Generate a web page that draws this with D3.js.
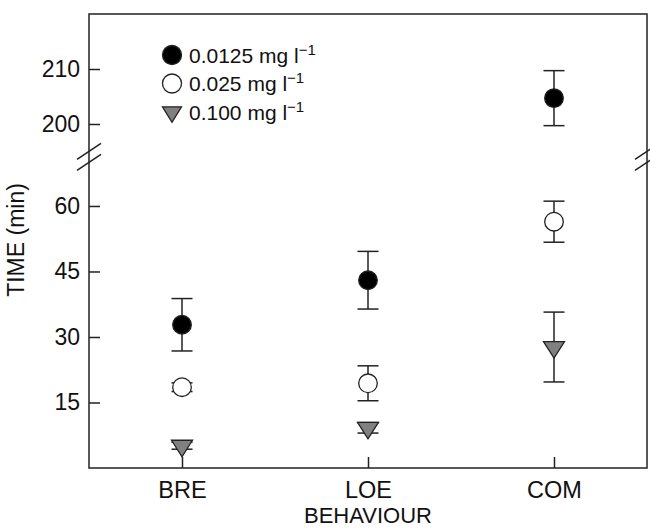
<!DOCTYPE html>
<html>
<head>
<meta charset="utf-8">
<script src="https://cdn.jsdelivr.net/npm/d3@7"></script>
<style>
  body { margin: 0; background: #fff; }
  text { font-family: Arial, "Liberation Sans", sans-serif; fill: #111; }
</style>
</head>
<body>
<div id="chart"></div>
<script>
// data
var categories = ["BRE", "LOE", "COM"];
var lowMean = [32.8, 43.0, 204.7];   // 0.0125 mg l-1
var lowErr = [6.0, 6.6, 5.0];
var midMean = [18.5, 19.4, 56.4];    // 0.025 mg l-1
var midErr = [1.0, 4.0, 4.7];
var highMean = [5.1, 9.2, 27.7];     // 0.100 mg l-1
var highErr = [0.8, 1.2, 8.0];
var lowerTicks = [15, 30, 45, 60];
var upperTicks = [200, 210];
var legendLabels = ["0.0125 mg l", "0.025 mg l", "0.100 mg l"];

var margin = {top: 14, right: 3, bottom: 61, left: 89},
    width = 650 - margin.left - margin.right,
    height = 529 - margin.top - margin.bottom;

var svg = d3.select("#chart")
  .append("svg")
  .attr("width", 650)
  .attr("height", 529);
var chart = svg.append("g")
  .attr("transform", "translate(" + margin.left + "," + margin.top + ")");

var x = d3.scalePoint()
  .domain(categories)
  .range([0, width])
  .padding(0.5);

// broken y axis: two segments
var yUpper = d3.scaleLinear().domain([195, 220]).range([137.5, 0]);
var yLower = d3.scaleLinear().domain([0, 70]).range([height, 148.3]);
function y(v) { return v >= 100 ? yUpper(v) : yLower(v); }

var ink = "#222";

// frame
chart.append("rect")
  .attr("x", 0).attr("y", 0)
  .attr("width", width).attr("height", height)
  .style("fill", "none")
  .style("stroke", ink)
  .style("stroke-width", 1.5);

// axes with inward ticks
function styleAxis(g) {
  g.select(".domain").remove();
  g.selectAll(".tick line").style("stroke", ink).style("stroke-width", 1.5);
  g.selectAll(".tick text").style("font-size", "23px").style("font-family", "Arial, 'Liberation Sans', sans-serif").style("fill", "#111");
}

chart.append("g")
  .call(d3.axisLeft(yLower).tickValues(lowerTicks).tickSizeInner(-11).tickSizeOuter(0).tickPadding(9))
  .call(styleAxis);
chart.append("g")
  .call(d3.axisLeft(yUpper).tickValues(upperTicks).tickSizeInner(-11).tickSizeOuter(0).tickPadding(9))
  .call(styleAxis);
chart.append("g")
  .attr("transform", "translate(0," + height + ")")
  .call(d3.axisBottom(x).tickSizeInner(-11).tickSizeOuter(0).tickPadding(13))
  .call(styleAxis)
  .selectAll(".tick text").style("font-size", "23.5px");

// break marks
var breakY = (yUpper(195) + yLower(70)) / 2;
[0, width].forEach(function (bx) {
  [-5.5, 5.5].forEach(function (off) {
    chart.append("line")
      .attr("x1", bx - 12).attr("y1", breakY + off + 8)
      .attr("x2", bx + 12).attr("y2", breakY + off - 8)
      .style("stroke", ink)
      .style("stroke-width", 1.5);
  });
});

// axis titles
chart.append("text")
  .attr("text-anchor", "middle")
  .attr("x", width / 2)
  .attr("y", height + 55)
  .style("font-size", "22px")
  .text("BEHAVIOUR");

chart.append("text")
  .attr("text-anchor", "middle")
  .attr("transform", "rotate(-90)")
  .attr("x", -(240 - margin.top))
  .attr("y", 23.5 - margin.left)
  .style("font-size", "23px")
  .text("TIME (min)");

// symbols
var tri = function (w, h) {
  return "M" + (-w / 2) + "," + (-h / 3) + "L" + (w / 2) + "," + (-h / 3) + "L0," + (2 * h / 3) + "Z";
};

var series = [
  {mean: lowMean, err: lowErr, shape: "circle", fill: "#000"},
  {mean: midMean, err: midErr, shape: "circle", fill: "#fff"},
  {mean: highMean, err: highErr, shape: "triangle", fill: "#808080"}
];

series.forEach(function (s) {
  var rows = categories.map(function (c, i) { return {c: c, m: s.mean[i], e: s.err[i]}; });
  var g = chart.append("g");
  var eb = g.selectAll(".eb").data(rows).enter().append("g");
  eb.append("line")
    .attr("x1", d => x(d.c)).attr("x2", d => x(d.c))
    .attr("y1", d => y(d.m + d.e)).attr("y2", d => y(d.m - d.e))
    .style("stroke", ink).style("stroke-width", 1.5);
  [1, -1].forEach(function (sgn) {
    eb.append("line")
      .attr("x1", d => x(d.c) - 10.5).attr("x2", d => x(d.c) + 10.5)
      .attr("y1", d => y(d.m + sgn * d.e)).attr("y2", d => y(d.m + sgn * d.e))
      .style("stroke", ink).style("stroke-width", 1.5);
  });
  if (s.shape === "circle") {
    g.selectAll("circle").data(rows).enter().append("circle")
      .attr("cx", d => x(d.c)).attr("cy", d => y(d.m))
      .attr("r", 9.3)
      .style("fill", s.fill).style("stroke", ink).style("stroke-width", 1.3);
  } else {
    g.selectAll("path.sym").data(rows).enter().append("path")
      .attr("class", "sym")
      .attr("d", tri(21, 16.5))
      .attr("transform", d => "translate(" + x(d.c) + "," + y(d.m) + ")")
      .style("fill", s.fill).style("stroke", ink).style("stroke-width", 1.3);
  }
});

// legend
var legendY = [55, 83.5, 112];
var leg = svg.append("g");
series.forEach(function (s, i) {
  if (s.shape === "circle") {
    leg.append("circle")
      .attr("cx", 172).attr("cy", legendY[i]).attr("r", 9.5)
      .style("fill", s.fill).style("stroke", ink).style("stroke-width", 1.3);
  } else {
    leg.append("path")
      .attr("d", tri(19, 15.5))
      .attr("transform", "translate(172," + legendY[i] + ")")
      .style("fill", s.fill).style("stroke", ink).style("stroke-width", 1.3);
  }
  var t = leg.append("text")
    .attr("x", 189)
    .attr("y", legendY[i] + 7.5)
    .style("font-size", "21px")
    .text(legendLabels[i]);
  t.append("tspan")
    .attr("dy", -8)
    .style("font-size", "15px")
    .text("\u22121");
});
</script>
</body>
</html>
